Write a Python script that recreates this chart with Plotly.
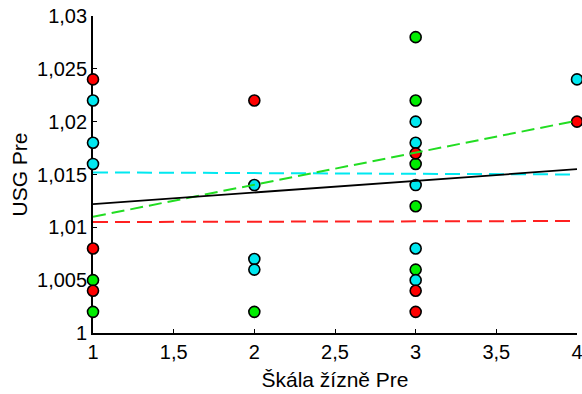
import plotly.graph_objects as go

# Data
green_x = [1, 1, 2, 3, 3, 3, 3, 3]
green_y = [1.005, 1.002, 1.002, 1.028, 1.022, 1.016, 1.012, 1.006]

cyan_x = [1, 1, 1, 2, 2, 2, 3, 3, 3, 3, 3, 4]
cyan_y = [1.022, 1.018, 1.016, 1.014, 1.007, 1.006, 1.020, 1.018, 1.014, 1.008, 1.005, 1.024]

red_x = [1, 1, 1, 2, 3, 3, 3, 4]
red_y = [1.024, 1.008, 1.004, 1.022, 1.017, 1.004, 1.002, 1.020]

# Fit line endpoints (x = 1 and x = 4)
line_x = [1, 4]
fit_all = [1.0122, 1.0155]
fit_green = [1.0110, 1.0201]
fit_cyan = [1.0152, 1.0150]
fit_red = [1.0105, 1.0106]

x_ticks = [1, 1.5, 2, 2.5, 3, 3.5, 4]
y_ticks = [1, 1.005, 1.01, 1.015, 1.02, 1.025, 1.03]

FONT = "Liberation Sans, Arial, sans-serif"

fig = go.Figure()

for xs, ys, col in [(green_x, green_y, "#00ee00"),
                    (cyan_x, cyan_y, "#00e8f0"),
                    (red_x, red_y, "#ff0000")]:
    fig.add_trace(go.Scatter(
        x=xs, y=ys, mode="markers", cliponaxis=False,
        marker=dict(size=11, color=col, line=dict(color="black", width=1.6)),
        showlegend=False))

for ys, col, dash, w in [(fit_red, "#ff2020", "15px,7px", 2),
                         (fit_cyan, "#00e8f0", "15px,7px", 2),
                         (fit_green, "#22dd22", "13px,6px", 2),
                         (fit_all, "black", "solid", 1.8)]:
    fig.add_trace(go.Scatter(
        x=line_x, y=ys, mode="lines",
        line=dict(color=col, dash=dash, width=w),
        showlegend=False))

fig.update_layout(
    width=582, height=394,
    margin=dict(l=93, r=5, t=16, b=61, autoexpand=False),
    paper_bgcolor="white", plot_bgcolor="white",
    separators=", ",
    font=dict(family=FONT, size=20, color="black"),
    xaxis=dict(range=[1, 4], tickvals=x_ticks, showgrid=False, zeroline=False,
               showline=True, linecolor="black", linewidth=1.8,
               ticks="inside", ticklen=4, tickwidth=1, tickcolor="black",
               ticklabeloverflow="allow", automargin=False,
               layer="below traces",
               title=dict(text="Škála žízně Pre", font=dict(size=21), standoff=10)),
    yaxis=dict(range=[1, 1.03], tickvals=y_ticks, showgrid=False, zeroline=False,
               showline=True, linecolor="black", linewidth=1.8,
               ticks="inside", ticklen=4, tickwidth=1, tickcolor="black",
               ticklabeloverflow="allow", automargin=False,
               layer="below traces",
               title=dict(text="USG Pre", font=dict(size=21), standoff=4)),
)

fig.write_html("out.html")
